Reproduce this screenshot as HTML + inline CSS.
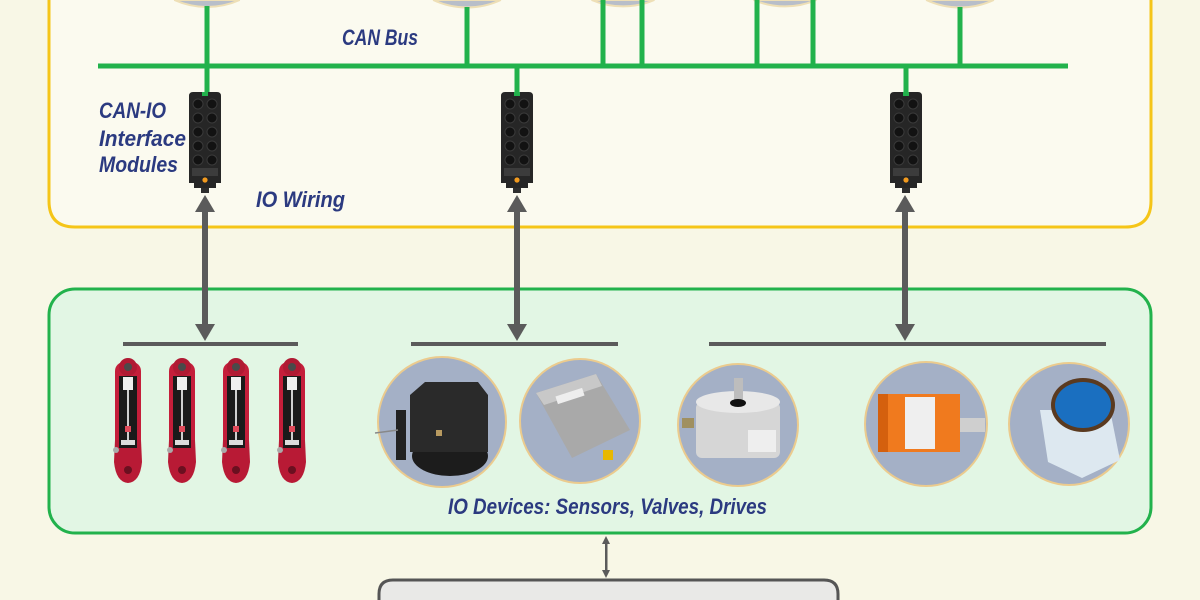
<!DOCTYPE html>
<html><head><meta charset="utf-8"><style>
html,body{margin:0;padding:0;background:#f8f7e6;width:1200px;height:600px;overflow:hidden;}
svg{display:block;}
.t{font-family:"Liberation Sans Narrow","Liberation Sans",sans-serif;font-weight:bold;font-style:italic;fill:#2b3a80;font-size:22px;}
</style></head><body>
<svg width="1200" height="600" viewBox="0 0 1200 600" xmlns="http://www.w3.org/2000/svg">
<rect x="0" y="0" width="1200" height="600" fill="#f8f7e6"/>
<!-- yellow box -->
<path d="M49,0 L49,201 Q49,227 75,227 L1125,227 Q1151,227 1151,201 L1151,0 Z" fill="#fbfaef"/>
<path d="M49,0 L49,201 Q49,227 75,227 L1125,227 Q1151,227 1151,201 L1151,0" fill="none" stroke="#f5c518" stroke-width="3"/>
<!-- top circles -->
<g fill="#b8bec9" stroke="#eedfb6" stroke-width="2">
<path d="M174.3,0 A80,80 0 0,0 239.7,0 Z"/>
<path d="M433.2,0 A80,80 0 0,0 500.8,0 Z"/>
<path d="M591.6,0 A80,80 0 0,0 654.4,0 Z"/>
<path d="M753.6,0 A80,80 0 0,0 816.4,0 Z"/>
<path d="M926.2,0 A80,80 0 0,0 993.8,0 Z"/>
</g>
<!-- CAN bus -->
<g stroke="#22b24c" stroke-width="5" fill="none">
<line x1="98" y1="66" x2="1068" y2="66"/>
<line x1="207" y1="6" x2="207" y2="96"/>
<line x1="467" y1="7" x2="467" y2="66"/>
<line x1="603" y1="0" x2="603" y2="66"/>
<line x1="642" y1="0" x2="642" y2="66"/>
<line x1="757" y1="0" x2="757" y2="66"/>
<line x1="813" y1="0" x2="813" y2="66"/>
<line x1="960" y1="7" x2="960" y2="66"/>
<line x1="517" y1="66" x2="517" y2="96"/>
<line x1="906" y1="66" x2="906" y2="96"/>
</g>
<text class="t" x="342" y="45" textLength="76" lengthAdjust="spacingAndGlyphs">CAN Bus</text>
<text class="t" x="99" y="118" textLength="67" lengthAdjust="spacingAndGlyphs">CAN-IO</text>
<text class="t" x="99" y="146" textLength="87" lengthAdjust="spacingAndGlyphs">Interface</text>
<text class="t" x="99" y="172" textLength="79" lengthAdjust="spacingAndGlyphs">Modules</text>
<text class="t" x="256" y="207" textLength="89" lengthAdjust="spacingAndGlyphs">IO Wiring</text>

<!-- modules -->
<defs>
<g id="mod">
<path d="M-16,96 Q-16,92 -12,92 L12,92 Q16,92 16,96 L16,183 L11,183 L11,188 L-11,188 L-11,183 L-16,183 Z" fill="#262626"/>
<g fill="#121212" stroke="#3a3a3a" stroke-width="1">
<circle cx="-7" cy="104" r="5"/><circle cx="7" cy="104" r="5"/>
<circle cx="-7" cy="118" r="5"/><circle cx="7" cy="118" r="5"/>
<circle cx="-7" cy="132" r="5"/><circle cx="7" cy="132" r="5"/>
<circle cx="-7" cy="146" r="5"/><circle cx="7" cy="146" r="5"/>
<circle cx="-7" cy="160" r="5"/><circle cx="7" cy="160" r="5"/>
</g>
<rect x="-13" y="168" width="26" height="8" fill="#3c3c3c"/>
<circle cx="0" cy="180" r="2.6" fill="#f29a1e"/>
<rect x="-4" y="188" width="8" height="5" fill="#2e2e2e"/>
<rect x="-3" y="92" width="6" height="4" fill="#22b24c"/>
</g>
</defs>
<use href="#mod" x="205" y="0"/>
<use href="#mod" x="517" y="0"/>
<use href="#mod" x="906" y="0"/>

<!-- green box -->
<rect x="49" y="289" width="1102" height="244" rx="26" fill="#e2f6e4" stroke="#22b24c" stroke-width="3"/>

<!-- arrows -->
<g fill="#5b5b5b">
<rect x="202" y="208" width="6" height="120"/>
<polygon points="205,195 195,212 215,212"/>
<polygon points="205,341 195,324 215,324"/>
<rect x="514" y="208" width="6" height="120"/>
<polygon points="517,195 507,212 527,212"/>
<polygon points="517,341 507,324 527,324"/>
<rect x="902" y="208" width="6" height="120"/>
<polygon points="905,195 895,212 915,212"/>
<polygon points="905,341 895,324 915,324"/>
<rect x="123" y="342" width="175" height="4"/>
<rect x="411" y="342" width="207" height="4"/>
<rect x="709" y="342" width="397" height="4"/>
<rect x="605" y="541" width="2.5" height="33"/>
<polygon points="606,536 602,544 610,544"/>
<polygon points="606,578 602,570 610,570"/>
</g>

<!-- pistons -->
<defs>
<g id="pis">
<rect x="-13" y="362" width="26" height="100" rx="9" fill="#c41e3a"/>
<path d="M-13,440 L13,440 L14,462 Q12,482 0,483 Q-12,482 -14,462 Z" fill="#b81a35"/>
<circle cx="0" cy="367" r="9" fill="#b01a33"/>
<circle cx="0" cy="367" r="4" fill="#4a4a4a"/>
<rect x="-9" y="376" width="18" height="72" fill="#1a1a1a"/>
<rect x="-5" y="377" width="10" height="13" fill="#efefef"/>
<rect x="-1" y="390" width="2" height="50" fill="#cfcfcf"/>
<rect x="-3" y="426" width="6" height="6" fill="#e04a5a"/>
<rect x="-7" y="440" width="14" height="5" fill="#ddd"/>
<circle cx="-12" cy="450" r="3" fill="#aaa"/>
<circle cx="0" cy="470" r="4" fill="#6a1020"/>
</g>
</defs>
<use href="#pis" x="128" y="0"/>
<use href="#pis" x="182" y="0"/>
<use href="#pis" x="236" y="0"/>
<use href="#pis" x="292" y="0"/>

<!-- device circles -->
<g fill="#a4b0c6" stroke="#ebcb8e" stroke-width="2">
<ellipse cx="442" cy="422" rx="64" ry="65"/>
<ellipse cx="580" cy="421" rx="60" ry="62"/>
<ellipse cx="738" cy="425" rx="60" ry="61"/>
<ellipse cx="926" cy="424" rx="61" ry="62"/>
<ellipse cx="1069" cy="424" rx="60" ry="61"/>
</g>
<!-- C1 black device -->
<ellipse cx="450" cy="456" rx="38" ry="20" fill="#1c1c1c"/>
<path d="M410,395 L425,382 L478,382 L488,395 L488,452 L410,452 Z" fill="#2a2a2a"/>
<rect x="396" y="410" width="10" height="50" fill="#222"/>
<line x1="375" y1="433" x2="398" y2="430" stroke="#888" stroke-width="1.5"/>
<rect x="436" y="430" width="6" height="6" fill="#b89a60"/>
<!-- C2 gray box -->
<polygon points="536,393 596,374 630,430 572,458" fill="#a9a9a9"/>
<polygon points="536,393 596,374 602,386 544,405" fill="#c8c8c8"/>
<rect x="556" y="392" width="28" height="8" fill="#eee" transform="rotate(-18 570 396)"/>
<rect x="603" y="450" width="10" height="10" fill="#e8b800"/>
<!-- C3 silver encoder -->
<rect x="696" y="402" width="84" height="56" rx="6" fill="#d6d6d6"/>
<ellipse cx="738" cy="402" rx="42" ry="11" fill="#e8e8e8"/>
<rect x="734" y="378" width="9" height="24" fill="#bdbdbd"/>
<ellipse cx="738" cy="403" rx="8" ry="4" fill="#111"/>
<rect x="682" y="418" width="12" height="10" fill="#a09060"/>
<rect x="748" y="430" width="28" height="22" fill="#eee"/>
<!-- C4 orange -->
<rect x="878" y="394" width="82" height="58" fill="#f07a1e"/>
<rect x="878" y="394" width="10" height="58" fill="#d4600e"/>
<rect x="905" y="397" width="30" height="52" fill="#efefef"/>
<rect x="960" y="418" width="25" height="14" fill="#cfcfcf"/>
<!-- C5 blue -->
<polygon points="1040,410 1110,410 1120,460 1082,478 1048,462" fill="#dde8f0"/>
<ellipse cx="1083" cy="405" rx="32" ry="27" fill="#5a3a20"/>
<ellipse cx="1083" cy="405" rx="28" ry="23" fill="#1a6fc0"/>

<text class="t" x="448" y="514" textLength="319" lengthAdjust="spacingAndGlyphs">IO Devices: Sensors, Valves, Drives</text>

<!-- bottom box -->
<path d="M379,600 L379,594 Q379,580 393,580 L824,580 Q838,580 838,594 L838,600 Z" fill="#e9e9e7"/>
<path d="M379,600 L379,594 Q379,580 393,580 L824,580 Q838,580 838,594 L838,600" fill="none" stroke="#555" stroke-width="3"/>
</svg>
</body></html>
